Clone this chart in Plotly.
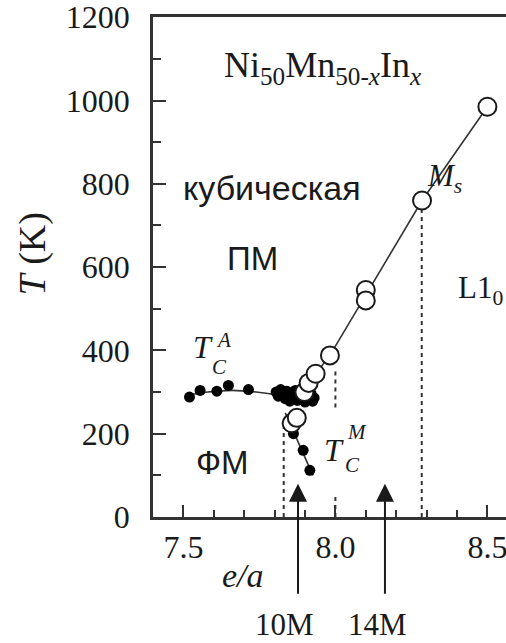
import plotly.graph_objects as go

# Curie temperature of austenite (filled circles)
tca_x = [7.52, 7.555, 7.61, 7.648, 7.714, 7.805, 7.812, 7.82, 7.826, 7.835, 7.84, 7.845,
         7.85, 7.855, 7.862, 7.868, 7.875, 7.88, 7.886, 7.892, 7.9, 7.905, 7.912, 7.92,
         7.925, 7.93]
tca_y = [288, 304, 302, 316, 306, 300, 290, 306, 294, 284, 302, 292,
         278, 298, 286, 304, 280, 294, 284, 300, 276, 290, 282, 296, 278, 286]

# Curie temperature of martensite (filled circles, lower branch)
tcm_x = [7.862, 7.894, 7.916]
tcm_y = [200, 160, 112]

# Martensitic start temperature Ms (open circles)
ms_x = [7.856, 7.873, 7.898, 7.912, 7.935, 7.982, 8.10, 8.10, 8.285, 8.5]
ms_y = [225, 238, 300, 322, 344, 388, 545, 520, 760, 985]

# Guide lines through the data
fit_a_x = [7.51, 7.58, 7.66, 7.74, 7.82, 7.9]
fit_a_y = [292, 300, 304, 300, 292, 283]
fit_m_x = [7.835, 7.926]
fit_m_y = [250, 100]
fit_ms_x = [7.87, 7.935, 7.982, 8.10, 8.285, 8.5]
fit_ms_y = [275, 344, 388, 532, 760, 985]

# Vertical dotted segments marking phase boundaries: (e/a, T from, T to)
drop_segments = [(7.83, 0, 215), (8.0, 0, 52), (8.0, 263, 350), (8.284, 0, 745)]

# Modulated martensite structures
arrow_x = [7.877, 8.163]
arrow_labels = ["10M", "14M"]
arrow_label_x = [7.834, 8.14]

SERIF = "Liberation Serif"
SANS = "Liberation Sans"
INK = "#1a1a1a"

fig = go.Figure()

fig.add_trace(go.Scatter(x=fit_a_x, y=fit_a_y, mode="lines", line=dict(color="#333", width=1.6, shape="spline")))
fig.add_trace(go.Scatter(x=fit_m_x, y=fit_m_y, mode="lines", line=dict(color="#333", width=1.6)))
fig.add_trace(go.Scatter(x=fit_ms_x, y=fit_ms_y, mode="lines", line=dict(color="#333", width=1.6)))

dx, dy = [], []
for xv, y0, y1 in drop_segments:
    dx += [xv, xv, None]
    dy += [y0, y1, None]
fig.add_trace(go.Scatter(x=dx, y=dy, mode="lines", line=dict(color="#333", width=2, dash="4px,4px")))

fig.add_trace(go.Scatter(x=tca_x, y=tca_y, mode="markers", marker=dict(color="black", size=11)))
fig.add_trace(go.Scatter(x=tcm_x, y=tcm_y, mode="markers", marker=dict(color="black", size=11)))
fig.add_trace(go.Scatter(x=ms_x, y=ms_y, mode="markers",
                         marker=dict(color="white", size=18, line=dict(color=INK, width=2))))

ann = []


def txt(x, y, text, size=32, family=SERIF, **kw):
    ann.append(dict(x=x, y=y, xref="x", yref="y", text=text, showarrow=False,
                    font=dict(family=family, size=size, color=INK), **kw))


txt(7.956, 1080, "Ni<sub>50</sub>Mn<sub>50-<i>x</i></sub>In<sub><i>x</i></sub>", size=36)
txt(7.791, 789, "кубическая", size=34, family=SANS)
txt(7.726, 620, "ПМ", size=33, family=SANS)
txt(7.627, 131, "ФМ", size=33, family=SANS)
txt(8.557, 544, "L1<sub>0</sub>", size=31, xanchor="right")
txt(8.36, 813, "<i>M<sub>s</sub></i>", size=31)
# T_C^A
txt(7.564, 407, "<i>T</i>", size=32)
txt(7.633, 426, "<i>A</i>", size=21)
txt(7.62, 360, "<i>C</i>", size=21)
# T_C^M
txt(7.994, 162, "<i>T</i>", size=32)
txt(8.07, 203, "<i>M</i>", size=21)
txt(8.055, 124, "<i>C</i>", size=21)

for xa, xl, lab in zip(arrow_x, arrow_label_x, arrow_labels):
    ann.append(dict(x=xa, y=80, xref="x", yref="y", ax=xa, ay=-188, axref="x", ayref="y",
                    text="", showarrow=True, arrowhead=2, arrowsize=1.8, arrowwidth=2,
                    arrowcolor=INK))
    ann.append(dict(x=xl, y=-0.2146, xref="x", yref="paper", text=lab, showarrow=False,
                    xanchor="center", yanchor="middle",
                    font=dict(family=SERIF, size=31, color=INK)))

ann.append(dict(x=-0.34, y=0.527, xref="paper", yref="paper", text="<i>T</i> (K)",
                xanchor="center", yanchor="middle",
                textangle=-90, showarrow=False, font=dict(family=SERIF, size=38, color=INK)))
ann.append(dict(x=0.255, y=-0.117, xref="paper", yref="paper", text="<i>e/a</i>",
                xanchor="center", yanchor="middle",
                showarrow=False, font=dict(family=SERIF, size=34, color=INK)))

fig.update_layout(
    width=506, height=643,
    margin=dict(l=153, r=0, t=17, b=126),
    paper_bgcolor="white", plot_bgcolor="white",
    showlegend=False,
    annotations=ann,
    xaxis=dict(range=[7.4, 8.5612], tick0=7.5, dtick=0.5, ticks="inside", ticklen=12,
               tickwidth=2, tickcolor="#333", showline=True, linewidth=2.5, linecolor="#333",
               mirror=True, showgrid=False, zeroline=False, tickformat=".1f",
               ticklabelstandoff=0, ticklabeloverflow="allow",
               tickfont=dict(family=SERIF, size=32, color=INK),
               minor=dict(dtick=0.1, ticks="inside", ticklen=7, tickwidth=2, tickcolor="#333")),
    yaxis=dict(range=[0, 1200.5], tick0=0, dtick=200, ticks="inside", ticklen=13,
               tickwidth=2, tickcolor="#333", showline=True, linewidth=2.5, linecolor="#333",
               showgrid=False, zeroline=False, ticklabelstandoff=14, ticklabeloverflow="allow",
               tickfont=dict(family=SERIF, size=32, color=INK),
               minor=dict(dtick=100, ticks="inside", ticklen=8, tickwidth=2, tickcolor="#333")),
)

fig.write_html("out.html")
